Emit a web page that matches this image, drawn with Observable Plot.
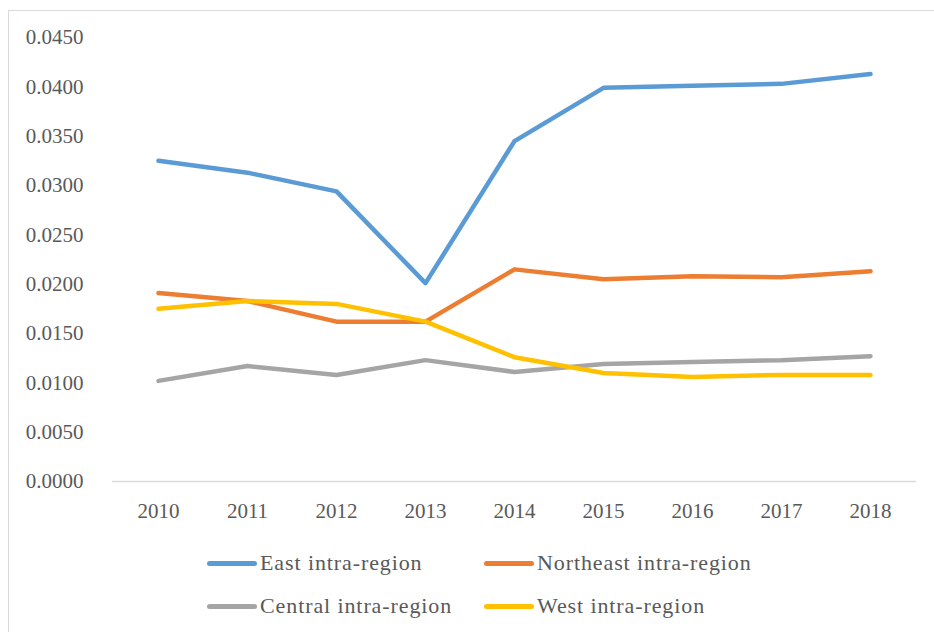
<!DOCTYPE html>
<html>
<head>
<meta charset="utf-8">
<script src="https://cdn.jsdelivr.net/npm/d3@7"></script>
<script src="https://cdn.jsdelivr.net/npm/@observablehq/plot@0.6"></script>
<style>
  html, body { margin: 0; padding: 0; background: #fff; }
  #wrap { position: relative; width: 934px; height: 632px; overflow: hidden; font-family: "Liberation Serif", serif; color: #595959; }
  #frame { position: absolute; left: 8px; top: 10px; width: 940px; height: 640px; border: 1px solid #d9d9d9; box-sizing: border-box; }
  #chart { position: absolute; left: 0; top: 0; }
  .leg { position: absolute; display: flex; align-items: center; font-size: 22px; letter-spacing: 0.9px; white-space: nowrap; }
  .sw { width: 50px; height: 5px; border-radius: 2.5px; margin-right: 3px; }
</style>
</head>
<body>
<div id="wrap">
  <div id="frame"></div>
  <div id="chart"></div>
  <div id="legend"></div>
</div>
<script>
const years = ["2010","2011","2012","2013","2014","2015","2016","2017","2018"];
const seriesNames = ["East intra-region","Northeast intra-region","Central intra-region","West intra-region"];
const seriesColors = ["#5B9BD5","#ED7D31","#A5A5A5","#FFC000"];
const east      = [0.0325,0.0313,0.0294,0.0201,0.0345,0.0399,0.0401,0.0403,0.0413];
const northeast = [0.0191,0.0183,0.0162,0.0162,0.0215,0.0205,0.0208,0.0207,0.0213];
const central   = [0.0102,0.0117,0.0108,0.0123,0.0111,0.0119,0.0121,0.0123,0.0127];
const west      = [0.0175,0.0183,0.0180,0.0162,0.0126,0.0110,0.0106,0.0108,0.0108];
const yTicks = [0,0.005,0.01,0.015,0.02,0.025,0.03,0.035,0.04,0.045];

const allSeries = [east, northeast, central, west];
const data = [];
allSeries.forEach((vals, si) => {
  vals.forEach((v, i) => data.push({series: seriesNames[si], year: years[i], value: v}));
});

const plot = Plot.plot({
  width: 934,
  height: 530,
  marginLeft: 112,
  marginRight: 18,
  marginTop: 37,
  marginBottom: 49,
  style: {fontFamily: "Liberation Serif, serif", fontSize: "21px", color: "#595959", background: "transparent"},
  x: {type: "point", domain: years, padding: 0.5},
  y: {domain: [0, 0.045]},
  color: {domain: seriesNames, range: seriesColors},
  marks: [
    Plot.ruleY([0], {stroke: "#d9d9d9", strokeWidth: 1.3}),
    Plot.axisY({ticks: yTicks, tickFormat: d3.format(".4f"), tickSize: 0, tickPadding: 29, label: null, fill: "#595959"}),
    Plot.axisX({tickSize: 0, tickPadding: 22, label: null, fill: "#595959"}),
    Plot.line(data, {x: "year", y: "value", z: "series", stroke: "series", strokeWidth: 4.5, strokeLinecap: "round", strokeLinejoin: "round"})
  ]
});
document.getElementById("chart").appendChild(plot);

const legendPos = [[207, 563], [484, 563], [207, 606], [484, 606]];
const legend = document.getElementById("legend");
seriesNames.forEach((name, i) => {
  const d = document.createElement("div");
  d.className = "leg";
  d.style.left = legendPos[i][0] + "px";
  d.style.top = (legendPos[i][1] - 13) + "px";
  d.style.height = "26px";
  const sw = document.createElement("div");
  sw.className = "sw";
  sw.style.background = seriesColors[i];
  const t = document.createElement("span");
  t.textContent = name;
  d.appendChild(sw);
  d.appendChild(t);
  legend.appendChild(d);
});
</script>
</body>
</html>
